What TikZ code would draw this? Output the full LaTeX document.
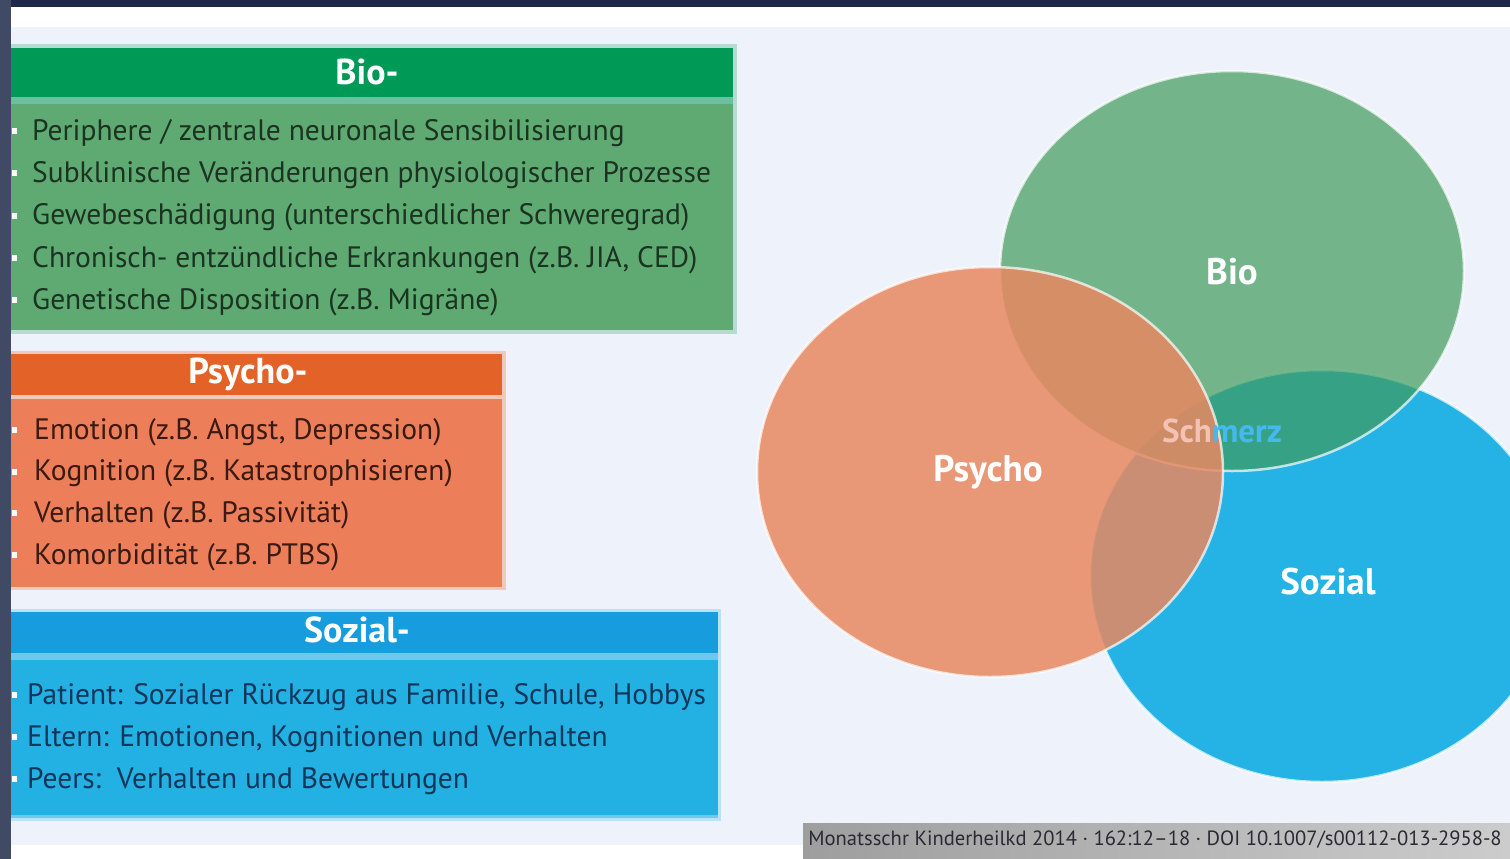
\documentclass[tikz,border=0pt]{standalone}
\usepackage{fontspec}
\setmainfont{PT Sans}
\usetikzlibrary{shapes.geometric}

\definecolor{navy}{HTML}{1F2A4A}
\definecolor{pagebg}{HTML}{EEF2FA}
\definecolor{biohead}{HTML}{009A57}
\definecolor{biobody}{HTML}{5EAA72}
\definecolor{biorim}{HTML}{6CC0A0}
\definecolor{psyhead}{HTML}{E26227}
\definecolor{psybody}{HTML}{EC7F5A}
\definecolor{psyrim}{HTML}{F0C8BC}
\definecolor{sozhead}{HTML}{179DDD}
\definecolor{sozbody}{HTML}{23B0E2}
\definecolor{sozrim}{HTML}{6CC8EE}
\definecolor{biotext}{HTML}{1B3320}
\definecolor{psytext}{HTML}{3A1A12}
\definecolor{soztext}{HTML}{10375A}
\definecolor{biofill}{RGB}{64,155,93}
\definecolor{psyfill}{RGB}{232,136,97}
\definecolor{sozfill}{RGB}{37,178,228}
\definecolor{schpink}{HTML}{F2C2B4}
\definecolor{merzblue}{HTML}{45B8EE}
\definecolor{citegray}{HTML}{2A2A35}

\begin{document}
\begin{tikzpicture}[x=1pt,y=-1pt,
    head/.style={text=white, font=\bfseries\fontsize{36}{38}\selectfont, inner sep=0pt},
    item/.style={anchor=west, font=\fontsize{29.5}{32}\selectfont, inner sep=0pt},
    vennset/.style={ellipse, inner sep=0pt, draw=white, line width=2.5pt, draw opacity=0.7},
    vennlabel/.style={text=white, font=\bfseries\fontsize{37}{39}\selectfont, inner sep=0pt}]
    \clip (0,0) rectangle (1510,859);
    \useasboundingbox (0,0) rectangle (1510,859);

    % Frame and page
    \fill[white] (0,0) rectangle (1510,859);
    \fill[pagebg] (11,27) rectangle (1510,845);
    \fill[navy] (0,0) rectangle (1510,7);
    \fill[navy!85!white] (0,0) rectangle (11,859);

    % Bio box
    \fill[biorim!45!pagebg] (11,44) rectangle (737,334);
    \fill[biohead] (11,48) rectangle (733,97);
    \fill[biorim] (11,97) rectangle (733,104);
    \fill[biobody] (11,104) rectangle (733,330);
    \node[head] (biotitle) at (367,72) {Bio-};
    \foreach \txt [count=\i] in {{Periphere / zentrale neuronale Sensibilisierung},
        {Subklinische Veränderungen physiologischer Prozesse},
        {Gewebeschädigung (unterschiedlicher Schweregrad)},
        {Chronisch- entzündliche Erkrankungen (z.B. JIA, CED)},
        {Genetische Disposition (z.B. Migräne)}} {
        \fill[white] (12,{128+42.3*(\i-1)}) rectangle (17,{134+42.3*(\i-1)});
        \node[item, text=biotext] (bio\i) at (32,{133+42.3*(\i-1)}) {\txt};
    }

    % Psycho box
    \fill[psyrim] (11,351) rectangle (506,590);
    \fill[psyhead] (11,354) rectangle (502,395);
    \fill[psyrim] (11,395) rectangle (502,399);
    \fill[psybody] (11,399) rectangle (502,587);
    \node[head] (psytitle) at (248,374) {Psycho-};
    \foreach \txt [count=\i] in {{Emotion (z.B. Angst, Depression)},
        {Kognition (z.B. Katastrophisieren)},
        {Verhalten (z.B. Passivität)},
        {Komorbidität (z.B. PTBS)}} {
        \fill[white] (12,{427+41.7*(\i-1)}) rectangle (17,{433+41.7*(\i-1)});
        \node[item, text=psytext] (psy\i) at (34,{432+41.7*(\i-1)}) {\txt};
    }

    % Sozial box
    \fill[sozrim!40!pagebg] (11,609) rectangle (721,821);
    \fill[sozhead] (11,612) rectangle (718,653);
    \fill[sozrim] (11,653) rectangle (718,660);
    \fill[sozbody] (11,660) rectangle (718,817);
    \fill[sozrim] (11,815) rectangle (718,818);
    \node[head] (soztitle) at (357,630) {Sozial-};
    \foreach \txt [count=\i] in {{Patient: Sozialer Rückzug aus Familie, Schule, Hobbys},
        {Eltern: Emotionen, Kognitionen und Verhalten},
        {Peers:\ \ Verhalten und Bewertungen}} {
        \fill[white] (12,{692+42*(\i-1)}) rectangle (17,{698+42*(\i-1)});
        \node[item, text=soztext] (soz\i) at (27,{697+42*(\i-1)}) {\txt};
    }

    % Venn diagram
    \node[vennset, fill=sozfill, minimum width=464pt, minimum height=412pt] (sozial) at (1322,576) {};
    \node[vennset, fill=biofill, fill opacity=0.7, minimum width=464pt, minimum height=400pt] (bio) at (1232,271) {};
    \node[vennset, fill=psyfill, fill opacity=0.85, minimum width=466pt, minimum height=410pt] (psycho) at (990,472) {};
    \node[vennlabel] (biolabel) at (1232,272) {Bio};
    \node[vennlabel] (psycholabel) at (988,472) {Psycho};
    \node[vennlabel] (soziallabel) at (1328,582) {Sozial};
    \node[inner sep=0pt, font=\bfseries\fontsize{33}{35}\selectfont] (schmerz) at (1222,431)
        {\textcolor{schpink}{Sch}\textcolor{merzblue}{merz}};

    % Citation
    \shade[left color=black!38, right color=black!20] (803,823) rectangle (1510,859);
    \node[inner sep=0pt, text=citegray, font=\fontsize{20.6}{22}\selectfont] (cite) at (1155,840)
        {Monatsschr Kinderheilkd 2014 · 162:12–18 · DOI 10.1007/s00112-013-2958-8};
\end{tikzpicture}
\end{document}
